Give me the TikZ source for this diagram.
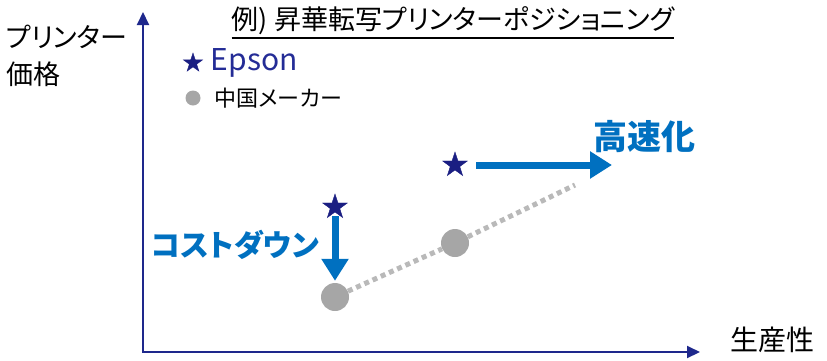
\documentclass[tikz,border=0pt]{standalone}
\usepackage{fontspec}
\setmainfont{Noto Sans CJK JP}[RawFeature={+palt}]
\usepackage{tikz}
\usetikzlibrary{shapes.geometric, arrows, arrows.meta, positioning}
\definecolor{axisblue}{RGB}{30,40,140}
\definecolor{starblue}{RGB}{26,30,130}
\definecolor{epsonblue}{RGB}{36,44,150}
\definecolor{arrowblue}{RGB}{0,112,192}
\definecolor{dotgray}{RGB}{185,185,185}
\definecolor{markgray}{RGB}{166,166,166}
\tikzstyle{axisline} = [draw=axisblue, line width=2pt]
\tikzstyle{epsonmark} = [star, star points=5, star point ratio=2.6, fill=starblue, draw=starblue, minimum size=26pt, inner sep=0pt]
\tikzstyle{chinamark} = [circle, fill=markgray, minimum size=28pt, inner sep=0pt]
\tikzstyle{bigarrow} = [draw=arrowblue, line width=7pt, -{Triangle[length=22pt,width=26pt]}]
\tikzstyle{trend} = [draw=dotgray, line width=5pt, dash pattern=on 5pt off 4pt]
\tikzstyle{bluelabel} = [text=arrowblue, font=\fontsize{30}{34}\selectfont\bfseries, inner sep=0pt]

\begin{document}
\begin{tikzpicture}[x=1pt, y=-1pt]
		\useasboundingbox (0,0) rectangle (827,360);
		% axes
		\coordinate (origin) at (143,352);
		\coordinate (yEnd) at (143,12);
		\coordinate (xEnd) at (700,352);
		\draw[axisline, {Triangle[length=13pt,width=12pt]}-{Triangle[length=13pt,width=12pt]}] (yEnd) -- (origin) -- (xEnd);
		\node[anchor=west, align=left, inner sep=0pt, font=\fontsize{27}{37}\selectfont] (ylabel) at (6,56) {プリンター\\価格};
		\node[anchor=west, inner sep=0pt, font=\fontsize{28}{30}\selectfont] (xlabel) at (730,340) {生産性};

		% title
		\node[inner sep=0pt, font=\fontsize{27}{29}\selectfont] (title) at (453,21) {例) 昇華転写プリンターポジショニング};
		\draw[line width=2pt] ([yshift=-3pt]title.south west) -- ([yshift=-3pt]title.south east);

		% legend
		\node[epsonmark, minimum size=20pt] (epsonKey) at (193,63) {};
		\node[right=12pt of epsonKey, inner sep=0pt, text=epsonblue, font=\fontsize{30}{32}\selectfont] (epsonText) {Epson};
		\node[chinamark, minimum size=15pt] (chinaKey) at (193,98) {};
		\node[right=14pt of chinaKey, inner sep=0pt, font=\fontsize{22}{24}\selectfont] (chinaText) {中国メーカー};

		% points
		\node[chinamark] (lowDot) at (335,297) {};
		\node[chinamark] (midDot) at (455,243) {};
		\coordinate (trendEnd) at (575,185);
		\draw[trend] (lowDot) -- (midDot);
		\draw[trend] (midDot) -- (trendEnd);
		\node[epsonmark] (costStar) at (335,207) {};
		\node[epsonmark] (speedStar) at (455,165) {};
		\coordinate (speedEnd) at (612,165);

		% moves
		\draw[bigarrow, shorten <= 4pt, shorten >= 2pt] (costStar) -- (lowDot);
		\draw[bigarrow, shorten <= 14pt] (speedStar) -- (speedEnd);
		\node[bluelabel, anchor=east] (costText) at (319,245) {コストダウン};
		\node[bluelabel, font=\fontsize{34}{36}\selectfont\bfseries] (speedText) at (644,137) {高速化};
	\end{tikzpicture}
\end{document}
